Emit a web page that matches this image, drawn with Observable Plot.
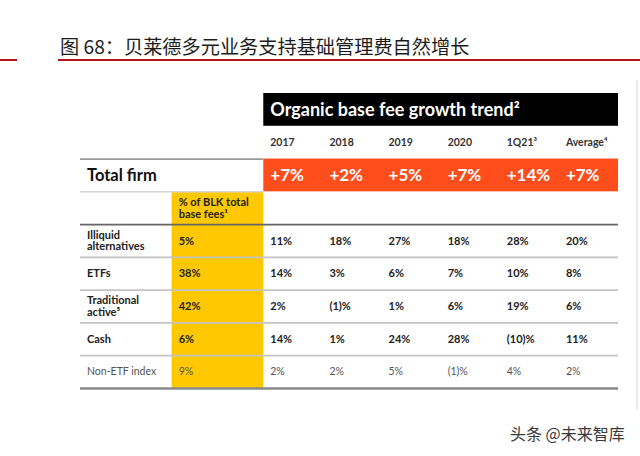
<!DOCTYPE html>
<html>
<head>
<meta charset="utf-8">
<script src="https://cdn.jsdelivr.net/npm/d3@7"></script>
<script src="https://cdn.jsdelivr.net/npm/@observablehq/plot@0.6"></script>
<style>
  html, body { margin: 0; padding: 0; background: #fff; }
  body { width: 640px; height: 456px; position: relative; overflow: hidden; }
  #chart { position: absolute; left: 0; top: 0; }
  #title { position: absolute; left: 60px; top: 37px; font: 19.2px/19px "Noto Sans CJK SC", sans-serif; color: #1c1c1c; white-space: nowrap; }
  #rule-main { position: absolute; left: 58px; top: 59px; width: 582px; height: 2px; background: #b3141d; }
  #rule-left { position: absolute; left: 0; top: 59px; width: 17px; height: 2px; background: #b3141d; }
  #edge { position: absolute; left: 636px; top: 80px; width: 2px; height: 330px; background: #ececec; }
  #wm { position: absolute; left: 510px; top: 423px; font: 16px/20px "Noto Sans CJK SC", sans-serif; color: #3a3a3a; white-space: nowrap;
        text-shadow: 0 0 2px #fff, 0 0 2px #fff; }
</style>
</head>
<body>
<div id="chart"></div>
<div id="title">图 68：贝莱德多元业务支持基础管理费自然增长</div>
<div id="rule-left"></div>
<div id="rule-main"></div>
<div id="edge"></div>
<div id="wm">头条 @未来智库</div>
<script>
// ---- data ----
const headerTitle = "Organic base fee growth trend²";
const columns = ["2017", "2018", "2019", "2020", "1Q21³", "Average⁴"];
const totalLabel = "Total firm";
const totalFirm = ["+7%", "+2%", "+5%", "+7%", "+14%", "+7%"];
const shareHeader = "% of BLK total\nbase fees¹";
const categories = ["Illiquid\nalternatives", "ETFs", "Traditional\nactive⁵", "Cash", "Non-ETF index"];
const shareOfFees = ["5%", "38%", "42%", "6%", "9%"];
const illiquidAlternatives = ["11%", "18%", "27%", "18%", "28%", "20%"];
const etfs = ["14%", "3%", "6%", "7%", "10%", "8%"];
const traditionalActive = ["2%", "(1)%", "1%", "6%", "19%", "6%"];
const cash = ["14%", "1%", "24%", "28%", "(10)%", "11%"];
const nonEtfIndex = ["2%", "2%", "5%", "(1)%", "4%", "2%"];
const growthRows = [illiquidAlternatives, etfs, traditionalActive, cash, nonEtfIndex];

// ---- layout (column / row units) ----
const C = {label: 0, share: 1.55, year: 3.1, end: 9.1};
const R = {header: 0, years: 1, total: 2, shareHead: 3, first: 4, end: 9};
const pad = 6.5;
const ORANGE = "#ff4d1c", YELLOW = "#ffc800";

// table cells
const rowCells = categories.map((c, i) => ({row: R.first + i, col: C.label, text: c, strong: i < 4}));
const shareCells = shareOfFees.map((s, i) => ({row: R.first + i, col: C.share, text: s, strong: i < 4}));
const valueCells = growthRows.flatMap((vals, i) =>
  vals.map((v, j) => ({row: R.first + i, col: C.year + j, text: v, strong: i < 4})));
const bodyCells = [...rowCells, ...shareCells, ...valueCells];

const rules = [
  {y: R.total, x1: C.label, x2: C.year, stroke: "#9a9a9a", w: 1.8},
  {y: R.shareHead, x1: C.label, x2: C.year, stroke: "#d6d6d6", w: 1.5},
  {y: R.first, x1: C.label, x2: C.end, stroke: "#666", w: 1.8},
  ...[1, 2, 3, 4].map(k => ({y: R.first + k, x1: C.label, x2: C.end, stroke: "#c4c4c4", w: 1.8})),
  {y: R.end, x1: C.label, x2: C.end, stroke: "#8a8a8a", w: 2.4}
];

const font = "Lato, 'Open Sans', sans-serif";

const chart = Plot.plot({
  width: 640,
  height: 456,
  marginTop: 0, marginRight: 0, marginBottom: 0, marginLeft: 0,
  x: {type: "linear", domain: [C.label, C.end], range: [80, 618], axis: null},
  y: {type: "linear", domain: [R.header, R.end], range: [93, 388], axis: null},
  style: {fontFamily: font, background: "transparent", overflow: "visible"},
  marks: [
    // coloured blocks
    Plot.rect([0], {x1: () => C.year, x2: () => C.end, y1: () => R.header, y2: () => R.header + 1, fill: "#000"}),
    Plot.rect([0], {x1: () => C.year, x2: () => C.end, y1: () => R.total, y2: () => R.total + 1, fill: ORANGE}),
    Plot.rect([0], {x1: () => C.share, x2: () => C.year, y1: () => R.shareHead, y2: () => R.end, fill: YELLOW}),
    // rules
    ...rules.map(r => Plot.ruleY([r], {y: "y", x1: "x1", x2: "x2", stroke: r.stroke, strokeWidth: r.w})),
    // header title
    Plot.text([headerTitle], {x: () => C.year, y: () => R.header + 0.5, text: d => d, dx: pad, textAnchor: "start",
      fill: "#fff", fontSize: 18, fontWeight: "bold"}),
    // year labels
    Plot.text(columns, {x: (d, i) => C.year + i, y: () => R.years + 0.5, text: d => d, dx: pad, textAnchor: "start",
      fill: "#333", fontSize: 10.5, fontWeight: "bold"}),
    // total firm row
    Plot.text([totalLabel], {x: () => C.label, y: () => R.total + 0.5, text: d => d, dx: pad, textAnchor: "start",
      fill: "#111", fontSize: 16.5, fontWeight: "bold"}),
    Plot.text(totalFirm, {x: (d, i) => C.year + i, y: () => R.total + 0.5, text: d => d, dx: pad, textAnchor: "start",
      fill: "#fff", fontSize: 17, fontWeight: "bold"}),
    // share header
    Plot.text([shareHeader], {x: () => C.share, y: () => R.shareHead + 0.5, text: d => d, dx: pad, textAnchor: "start",
      fill: "#222", fontSize: 11, fontWeight: "bold", lineHeight: 1.1}),
    // body
    Plot.text(bodyCells.filter(d => d.strong), {x: "col", y: d => d.row + 0.5, text: "text", dx: pad, textAnchor: "start",
      fill: "#222", fontSize: 11, fontWeight: "bold", lineHeight: 1.05}),
    Plot.text(bodyCells.filter(d => !d.strong), {x: "col", y: d => d.row + 0.5, text: "text", dx: pad, textAnchor: "start",
      fill: "#555", fontSize: 10.5, fontWeight: "normal"})
  ]
});
document.getElementById("chart").appendChild(chart);
</script>
</body>
</html>
